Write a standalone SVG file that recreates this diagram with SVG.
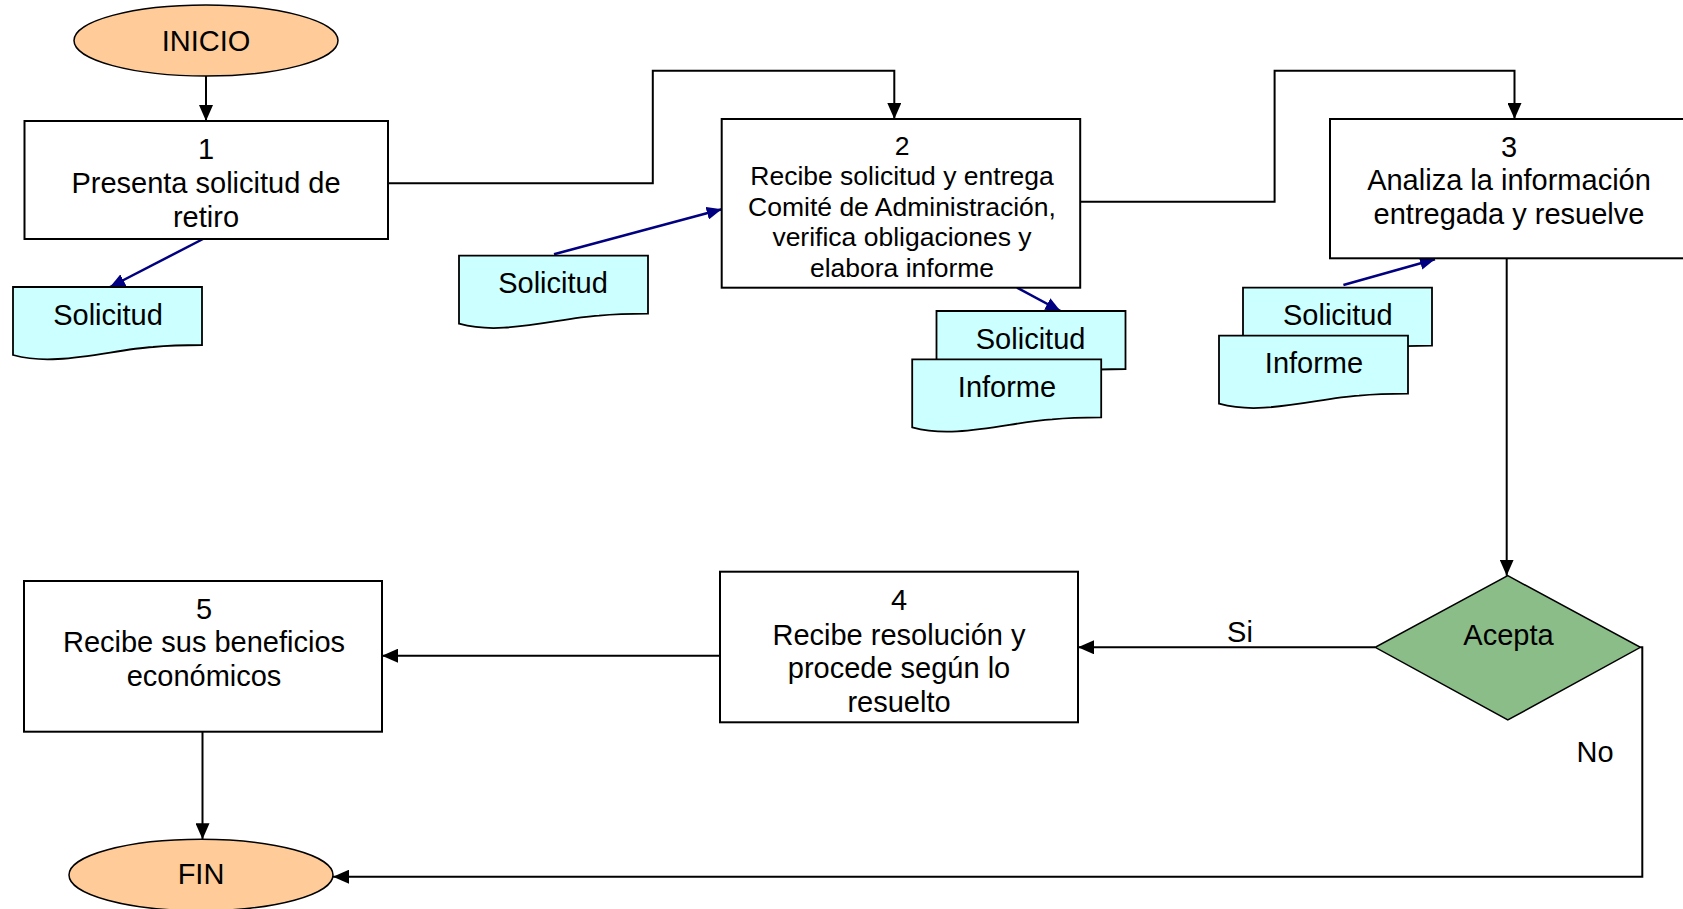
<svg xmlns="http://www.w3.org/2000/svg" xmlns:xlink="http://www.w3.org/1999/xlink" width="1683" height="909" viewBox="0 0 1683 909">
  <style>
    text { font-family: "Liberation Sans", Arial, sans-serif; fill: #000; text-anchor: middle; }
    .t29 { font-size: 29px; }
    .t26 { font-size: 26.5px; }
    .box { fill: #fff; stroke: #000; stroke-width: 2; }
    .term { fill: #FFCC99; stroke: #000; stroke-width: 1.5; }
    .dec { fill: #8BBD88; stroke: #000; stroke-width: 1.5; }
    .doc { fill: #CCFFFF; stroke: #000; stroke-width: 1.8; }
    .flow { fill: none; stroke: #000; stroke-width: 2; marker-end: url(#arrowBlack); }
    .data { fill: none; stroke: #000080; stroke-width: 2.5; marker-end: url(#arrowBlue); }
  </style>
  <defs>
    <marker id="arrowBlack" markerUnits="userSpaceOnUse" markerWidth="17" markerHeight="14" refX="16" refY="7" orient="auto">
      <path d="M0,0 L16,7 L0,14 Z" fill="#000"/>
    </marker>
    <marker id="arrowBlue" markerUnits="userSpaceOnUse" markerWidth="16" markerHeight="13" refX="15" refY="6.5" orient="auto">
      <path d="M0,0 L15,6.5 L0,13 Z" fill="#000080"/>
    </marker>
    <!-- document symbol: rectangle with a wavy bottom edge -->
    <path id="docShape" d="M0,0 H189 V58 C175,58 160,58 140,60 C110,62 80,70 45,72 C30,73 15,72 0,68 Z"/>
  </defs>

  <rect width="1683" height="909" fill="#fff"/>

  <!-- connectors -->
  <g id="connectors">
    <path class="flow" d="M206,76 V121"/>
    <path class="flow" d="M388,183.3 H652.8 V70.7 H894.3 V119"/>
    <path class="flow" d="M1080.2,201.7 H1274.6 V70.7 H1514.5 V119"/>
    <path class="flow" d="M1506.7,258.3 V575.7"/>
    <path class="flow" d="M1375.2,647.3 H1078"/>
    <path class="flow" d="M720,655.7 H382"/>
    <path class="flow" d="M202.5,731.7 V839.3"/>
    <path class="flow" d="M1640.4,647.3 H1642.3 V876.7 H333"/>
    <path class="data" d="M203,239 L110,287"/>
    <path class="data" d="M554,254.3 L721.7,209.3"/>
    <path class="data" d="M1017,287.7 L1060.5,311"/>
    <path class="data" d="M1343.4,285 L1435,259.3"/>
    <text class="t29" x="1240" y="642">Si</text>
    <text class="t29" x="1595" y="762">No</text>
  </g>

  <g id="inicio">
    <ellipse class="term" cx="206" cy="40.5" rx="132" ry="35.5"/>
    <text class="t29" x="206" y="50.5">INICIO</text>
  </g>

  <g id="paso1">
    <rect class="box" x="24.5" y="121" width="363.5" height="118"/>
    <text class="t29" x="206" y="159">1</text>
    <text class="t29" x="206" y="193">Presenta solicitud de</text>
    <text class="t29" x="206" y="226.5">retiro</text>
  </g>

  <g id="doc-solicitud-1">
    <use xlink:href="#docShape" class="doc" transform="translate(13,287)"/>
    <text class="t29" x="108" y="325">Solicitud</text>
  </g>

  <g id="doc-solicitud-2">
    <use xlink:href="#docShape" class="doc" transform="translate(459,255.7)"/>
    <text class="t29" x="553" y="293.3">Solicitud</text>
  </g>

  <g id="paso2">
    <rect class="box" x="721.7" y="119" width="358.5" height="168.7"/>
    <text class="t26" x="902" y="155">2</text>
    <text class="t26" x="902" y="185">Recibe solicitud y entrega</text>
    <text class="t26" x="902" y="215.5">Comité de Administración,</text>
    <text class="t26" x="902" y="245.5">verifica obligaciones y</text>
    <text class="t26" x="902" y="276.5">elabora informe</text>
  </g>

  <g id="docs-paso2">
    <use xlink:href="#docShape" class="doc" transform="translate(936.5,311)"/>
    <text class="t29" x="1030.6" y="349.3">Solicitud</text>
    <use xlink:href="#docShape" class="doc" transform="translate(912.2,359.3)"/>
    <text class="t29" x="1007" y="396.7">Informe</text>
  </g>

  <g id="paso3">
    <rect class="box" x="1330" y="119" width="365" height="139.3"/>
    <text class="t29" x="1509" y="156.7">3</text>
    <text class="t29" x="1509" y="190">Analiza la información</text>
    <text class="t29" x="1509" y="224">entregada y resuelve</text>
  </g>

  <g id="docs-paso3">
    <use xlink:href="#docShape" class="doc" transform="translate(1243,287.7)"/>
    <text class="t29" x="1337.8" y="325">Solicitud</text>
    <use xlink:href="#docShape" class="doc" transform="translate(1219,335.7)"/>
    <text class="t29" x="1314" y="372.7">Informe</text>
  </g>

  <g id="acepta">
    <polygon class="dec" points="1507.8,575.7 1640.4,647.3 1507.8,720 1375.2,647.3"/>
    <text class="t29" x="1508.5" y="645.3">Acepta</text>
  </g>

  <g id="paso4">
    <rect class="box" x="720" y="571.7" width="358" height="150.6"/>
    <text class="t29" x="899" y="610.3">4</text>
    <text class="t29" x="899" y="644.7">Recibe resolución y</text>
    <text class="t29" x="899" y="678.3">procede según lo</text>
    <text class="t29" x="899" y="712">resuelto</text>
  </g>

  <g id="paso5">
    <rect class="box" x="24" y="581" width="358" height="150.7"/>
    <text class="t29" x="204" y="619.3">5</text>
    <text class="t29" x="204" y="652.3">Recibe sus beneficios</text>
    <text class="t29" x="204" y="686">económicos</text>
  </g>

  <g id="fin">
    <ellipse class="term" cx="201" cy="875" rx="132" ry="35.7"/>
    <text class="t29" x="201" y="884.3">FIN</text>
  </g>
</svg>
